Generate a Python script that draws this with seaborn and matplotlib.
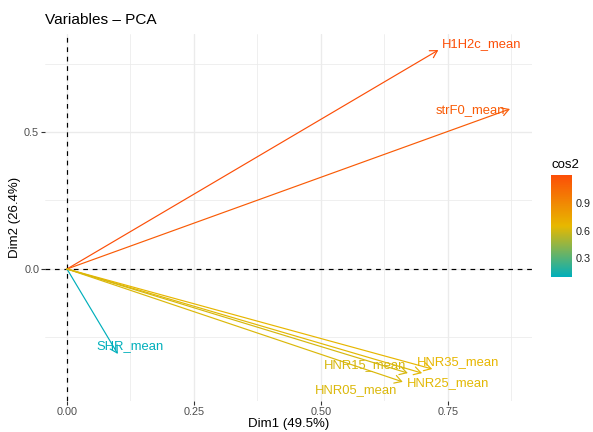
import matplotlib
matplotlib.use("Agg")
import matplotlib.pyplot as plt
from matplotlib.colors import Normalize
from matplotlib.cm import ScalarMappable
from matplotlib.ticker import FormatStrFormatter
import seaborn as sns

# Variable loadings on the first two principal components
variables = ["H1H2c_mean", "strF0_mean", "SHR_mean",
             "HNR35_mean", "HNR25_mean", "HNR15_mean", "HNR05_mean"]
dim1 = [0.731, 0.872, 0.100, 0.719, 0.699, 0.671, 0.661]
dim2 = [0.799, 0.584, -0.310, -0.365, -0.380, -0.380, -0.412]
cos2 = [1.20, 1.13, 0.10, 0.66, 0.64, 0.61, 0.62]

# where each variable name sits (repelled from the arrow tips)
label_x = [0.817, 0.795, 0.124, 0.770, 0.750, 0.587, 0.569]
label_y = [0.821, 0.580, -0.281, -0.339, -0.416, -0.350, -0.442]

x_ticks = [0.00, 0.25, 0.50, 0.75]
x_minor = [0.125, 0.375, 0.625, 0.875]
y_ticks = [0.0, 0.5]
y_minor = [-0.25, 0.25, 0.75]
cbar_ticks = [0.3, 0.6, 0.9]

sns.set_theme(style="white")
plt.rcParams["font.family"] = ["Liberation Sans", "DejaVu Sans"]

cmap = sns.blend_palette(["#00AFBB", "#E7B800", "#FC4E07"], as_cmap=True)
norm = Normalize(vmin=min(cos2), vmax=max(cos2))

W, H = 593, 432
fig = plt.figure(figsize=(W / 100, H / 100), dpi=100)
fig.patch.set_facecolor("white")

px_l, px_r, px_t, px_b = 45, 532, 34, 401
ax_w, ax_h = px_r - px_l, px_b - px_t
ax = fig.add_axes([px_l / W, 1 - px_b / H, ax_w / W, ax_h / H])
ax.set_facecolor("white")

ax.set_xlim(-0.0433, 0.9154)
ax.set_ylim(-0.4818, 0.8577)

ax.set_xticks(x_ticks)
ax.set_xticks(x_minor, minor=True)
ax.set_yticks(y_ticks)
ax.set_yticks(y_minor, minor=True)
ax.xaxis.set_major_formatter(FormatStrFormatter("%.2f"))
ax.yaxis.set_major_formatter(FormatStrFormatter("%.1f"))

ax.grid(which="major", color="#EBEBEB", linewidth=0.95, zorder=0)
ax.grid(which="minor", color="#EBEBEB", linewidth=0.55, zorder=0)
ax.set_axisbelow(True)
for s in ax.spines.values():
    s.set_visible(False)

ax.tick_params(which="major", length=3.0, width=0.8, color="#333333",
               labelcolor="#4D4D4D", labelsize=7.8, pad=1.2,
               bottom=True, left=True)
ax.tick_params(which="minor", length=0)

# reference lines through the origin
ax.axhline(0, color="black", linewidth=0.85, linestyle=(0, (4, 4)), zorder=1.5)
ax.axvline(0, color="black", linewidth=0.85, linestyle=(0, (4, 4)), zorder=1.5)

# loading arrows
for name, x, y, c in zip(variables, dim1, dim2, cos2):
    ax.annotate("", xy=(x, y), xytext=(0, 0),
                arrowprops=dict(arrowstyle="->,head_length=0.5,head_width=0.29",
                                color=cmap(norm(c)), lw=0.85,
                                shrinkA=0, shrinkB=0, mutation_scale=10),
                zorder=2)

for name, lx, ly, c in zip(variables, label_x, label_y, cos2):
    ax.text(lx, ly, name, color=cmap(norm(c)), fontsize=9.4,
            ha="center", va="center", zorder=3)

ax.set_xlabel("Dim1 (49.5%)", fontsize=9.5, color="black")
ax.xaxis.label.set_va("baseline")
ax.xaxis.set_label_coords(0.5, (px_b - 427) / ax_h)

ax.set_ylabel("Dim2 (26.4%)", fontsize=9.5, color="black")
ax.yaxis.label.set_va("center")
ax.yaxis.set_label_coords((15.5 - px_l) / ax_w, 0.5)

fig.text(px_l / W, 1 - 24 / H, "Variables \u2013 PCA", fontsize=11.1,
         color="black", ha="left", va="baseline")

# colour bar for cos2
cb_l, cb_r, cb_t, cb_b = 551, 572, 175, 277
cax = fig.add_axes([cb_l / W, 1 - cb_b / H, (cb_r - cb_l) / W, (cb_b - cb_t) / H])
cb = fig.colorbar(ScalarMappable(norm=norm, cmap=cmap), cax=cax, ticks=cbar_ticks)
cb.outline.set_visible(False)
cb.ax.minorticks_off()
cb.ax.yaxis.set_major_formatter(FormatStrFormatter("%.1f"))
cax.tick_params(which="major", direction="in", length=4, width=0.8,
                color="white", left=True, right=True,
                labelsize=7.8, labelcolor="#222222", pad=2.5)
fig.text(cb_l / W, 1 - 168 / H, "cos2", fontsize=9.5, color="black",
         ha="left", va="baseline")

fig.savefig("out.png", dpi=100, facecolor="white")
